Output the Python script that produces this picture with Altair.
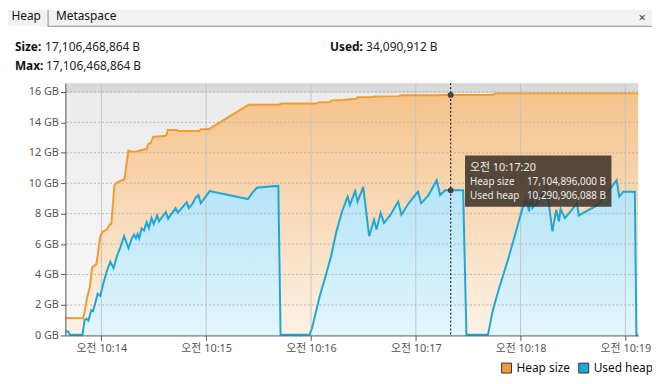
import altair as alt
import pandas as pd

FONT = "Noto Sans, Noto Sans CJK KR"

# ---- data (x: seconds after 10:14:00, y: GB) ----
heap_t = [-20.6, -10.4, -9.6, -8.1, -6.6, -5.3, -2.8, -0.6, 1.0, 3.2, 4.7, 5.7, 7.5, 9.3,
          11.7, 13.2, 15.5, 17.4, 20.2, 23.1, 25.9, 26.8, 28.2, 29.7, 32.5, 36.9, 38.2,
          42.9, 44.2, 56.1, 57.0, 61.6, 84.3, 101.7, 103.2, 123.0, 124.6, 130.6, 132.0,
          138.0, 145.7, 146.7, 155.0, 157.0, 170.0, 172.0, 191.0, 200.0, 224.0, 225.5, 307.3]
heap_gb = [1.15, 1.13, 1.55, 2.53, 3.18, 4.47, 4.69, 6.52, 6.84, 6.95, 7.28, 7.32, 9.87, 10.08,
           10.19, 10.26, 12.14, 12.07, 12.09, 12.18, 12.24, 12.57, 12.63, 13.05, 13.07, 13.11, 13.50,
           13.50, 13.43, 13.43, 13.55, 13.55, 15.16, 15.16, 15.23, 15.23, 15.31, 15.33, 15.44,
           15.47, 15.55, 15.64, 15.66, 15.70, 15.72, 15.77, 15.78, 15.80, 15.81, 15.90, 15.90]

used_t = [-20.6, -19.1, -18.0, -10.8, -9.6, -8.5, -7.4, -5.8, -4.7, -2.1, -0.6, 1.3, 3.2, 5.1,
          7.0, 8.9, 10.8, 13.0, 15.5, 17.4, 18.7, 19.8, 20.8, 21.7, 23.0, 24.4, 25.9, 27.2,
          28.7, 30.0, 31.9, 33.0, 36.9, 38.2, 42.5, 43.8, 48.9, 50.0, 52.0, 54.0, 55.6, 56.9,
          62.0, 83.9, 86.2, 89.0, 94.7, 101.3, 102.6, 119.2, 120.6, 124.9, 128.7, 131.5,
          134.4, 137.8, 141.0, 142.3, 145.3, 146.7, 149.9, 153.3, 156.1, 157.5, 159.9, 161.8,
          165.6, 169.9, 171.8, 175.9, 181.3, 183.1, 187.3, 192.0, 193.9, 196.8, 207.1, 209.0,
          221.3, 224.1, 227.9, 232.6, 237.4, 241.1, 243.1, 244.9, 245.9, 246.8, 250.6, 254.8,
          258.2, 260.4, 262.0, 262.9, 265.4, 272.3, 273.3, 284.2, 295.0, 296.5, 298.8, 305.4,
          306.3, 307.3]
used_gb = [0.26, 0.26, 0.04, 0.04, 1.01, 1.10, 0.97, 1.66, 1.60, 2.74, 2.61, 3.50, 4.25, 4.84,
           4.41, 5.22, 5.77, 6.52, 5.72, 6.37, 6.63, 6.37, 6.67, 6.37, 7.02, 6.89, 7.45, 7.06,
           7.71, 7.32, 7.88, 7.49, 8.10, 7.67, 8.36, 8.06, 8.75, 8.36, 8.62, 9.05, 9.22, 8.68,
           9.48, 8.96, 9.33, 9.70, 9.76, 9.82, 0.04, 0.04, 0.47, 2.53, 4.04, 5.20,
           6.74, 8.14, 9.11, 8.57, 9.48, 8.79, 9.76, 6.52, 7.60, 6.95, 8.04, 7.39,
           7.93, 8.79, 7.93, 8.68, 9.44, 8.68, 9.22, 10.19, 9.22, 9.53, 9.53, 0.04,
           0.04, 1.66, 3.18, 4.90, 6.84, 8.36, 9.01, 8.14, 9.76, 8.36, 8.90, 9.87,
           6.84, 8.25, 7.49, 8.31, 7.71, 8.68, 7.88, 8.57, 10.19, 9.11, 9.44, 9.44,
           0.04, 0.04]

series = ["Heap size", "Used heap"]
series_colors = ["#f29b30", "#1fa6d8"]

x_ticks = [0, 60, 120, 180, 240, 300]
y_ticks = [0, 2, 4, 6, 8, 10, 12, 14, 16]
x_domain = [-20.6, 307.3]
y_max = 16.57
max_heap_gb = 17106468864 / 2 ** 30

hover_t = 200
hover_vals = [15.80, 9.53]

W, H = 579, 255

xs = alt.Scale(domain=x_domain, nice=False, zero=False)
ys = alt.Scale(domain=[0, y_max], nice=False, zero=False)
AX = alt.Axis(values=x_ticks, labelExpr="'오전 10:' + (14 + datum.value/60)",
              grid=False, tickSize=5, labelPadding=2, zindex=1,
              labelFlush=False, labelOverlap=False)
AY = alt.Axis(values=y_ticks, labelExpr="datum.value + ' GB'",
              grid=False, tickSize=5, labelPadding=2, zindex=1,
              labelFlush=False, labelOverlap=False)


def X(f):
    return alt.X(f, scale=xs, title=None, axis=AX)


def Y(f):
    return alt.Y(f, scale=ys, title=None, axis=AY)


heap_df = pd.DataFrame({"t": heap_t, "gb": heap_gb})
used_df = pd.DataFrame({"t": used_t, "gb": used_gb})
one = pd.DataFrame({"a": [0]})


def grad(c0, c1):
    return alt.LinearGradient(gradient="linear", x1=0, y1=0, x2=0, y2=1,
                              stops=[alt.GradientStop(offset=0, color=c0),
                                     alt.GradientStop(offset=1, color=c1)])


bg = alt.Chart(one).mark_rect(fill=grad("#ebebeb", "#f9f9f9")).encode(
    x=alt.value(0), x2=alt.value(W), y=alt.value(0), y2=alt.value(H))

band = alt.Chart(pd.DataFrame({"lo": [max_heap_gb], "hi": [y_max]})).mark_rect(fill="#d9d9d9").encode(
    x=alt.value(0), x2=alt.value(W), y=Y("lo:Q"), y2="hi:Q")

heap_area = alt.Chart(heap_df).mark_area(fill=grad("#f4c38b", "#fdf2e6")).encode(
    x=X("t:Q"), y=Y("gb:Q"))
used_area = alt.Chart(used_df).mark_area(fill=grad("#b3e3f7", "#e3f6fd")).encode(
    x=X("t:Q"), y=Y("gb:Q"))

ygrid = alt.Chart(pd.DataFrame({"v": y_ticks[1:]})).mark_rule(
    color="#b3b3b3", strokeDash=[2, 2], strokeWidth=1).encode(y=Y("v:Q"))
xgrid = alt.Chart(pd.DataFrame({"v": x_ticks})).mark_rule(
    color="#c4c4c4", strokeWidth=1).encode(x=X("v:Q"))

heap_line = alt.Chart(heap_df).mark_line(color=series_colors[0], strokeWidth=2).encode(
    x=X("t:Q"), y=Y("gb:Q"))
used_line = alt.Chart(used_df).mark_line(color=series_colors[1], strokeWidth=2).encode(
    x=X("t:Q"), y=Y("gb:Q"))

hover_rule = alt.Chart(pd.DataFrame({"t": [hover_t]})).mark_rule(
    color="#000", strokeDash=[2, 2], strokeWidth=1).encode(x=X("t:Q"))
hover_dots = alt.Chart(pd.DataFrame({"t": [hover_t, hover_t], "gb": hover_vals})).mark_circle(
    color="#444", size=36, opacity=1).encode(x=X("t:Q"), y=Y("gb:Q"))

# legend (points placed outside the plot and clipped; only the legend shows)
legend_pts = alt.Chart(pd.DataFrame({"s": series, "t": [9999, 9999], "gb": [1, 1]})).mark_point(
    filled=True, shape="square", clip=True, opacity=1).encode(
    x=X("t:Q"), y=Y("gb:Q"),
    color=alt.Color("s:N", scale=alt.Scale(domain=series, range=series_colors),
                    legend=alt.Legend(orient="none", legendX=440, legendY=282,
                                      direction="horizontal", title=None,
                                      symbolType="square", symbolSize=100,
                                      symbolStrokeColor="#333", symbolStrokeWidth=1,
                                      symbolOpacity=1,
                                      labelFont=FONT, labelFontSize=12, labelColor="#111",
                                      labelOffset=4, columnPadding=6, padding=0)))

# tooltip box
tip_box = alt.Chart(one).mark_rect(fill="#3b3127", opacity=0.86).encode(
    x=alt.value(404), x2=alt.value(552), y=alt.value(73), y2=alt.value(125))


def txt(s, x, y, size=12, color="#111", weight="normal", align="left"):
    return alt.Chart(one).mark_text(font=FONT, fontSize=size, color=color, fontWeight=weight,
                                    align=align, baseline="middle").encode(
        x=alt.value(x), y=alt.value(y), text=alt.value(s))


tip_texts = [
    txt("오전 10:17:20", 409, 85.5, 11, "#eeeeee"),
    txt("Heap size", 409, 99.7, 10, "#eeeeee"),
    txt("17,104,896,000 B", 546.5, 99.7, 10, "#eeeeee", align="right"),
    txt("Used heap", 409, 113.7, 10, "#eeeeee"),
    txt("10,290,906,088 B", 546.5, 113.7, 10, "#eeeeee", align="right"),
]

# header: tab bar and summary
tab_bar = alt.Chart(one).mark_rect(fill="#f2f2f2").encode(
    x=alt.value(-58), x2=alt.value(593), y=alt.value(-74), y2=alt.value(-57.5))
tab_line = alt.Chart(one).mark_rule(color="#8f8f8f", strokeWidth=1).encode(
    x=alt.value(-18), x2=alt.value(593), y=alt.value(-57.5))
tab_sep = alt.Chart(one).mark_rule(color="#8f8f8f", strokeWidth=1).encode(
    x=alt.value(-17.5), y=alt.value(-74), y2=alt.value(-57.5))

header_texts = [
    txt("Heap", -54.5, -68, 12, "#111"),
    txt("Metaspace", -9.5, -68, 12, "#111"),
    txt("×", 583, -65.5, 13, "#444", align="center"),
    txt("Size:", -51, -37, 12, "#111", "bold"),
    txt("17,106,468,864 B", -20.5, -37, 12, "#222"),
    txt("Max:", -51, -17, 12, "#111", "bold"),
    txt("17,106,468,864 B", -19.5, -17, 12, "#222"),
    txt("Used:", 267.5, -37, 12, "#111", "bold"),
    txt("34,090,912 B", 304, -37, 12, "#222"),
]

chart = alt.layer(
    bg, band, heap_area, used_area, xgrid, ygrid, heap_line, used_line,
    hover_rule, hover_dots, legend_pts, tip_box, *tip_texts,
    tab_bar, tab_line, tab_sep, *header_texts,
).properties(
    width=W, height=H,
    padding={"left": 58, "top": 74, "right": 14, "bottom": 38},
    autosize=alt.AutoSizeParams(type="none"),
    background="white",
).configure_view(stroke=None).configure_axis(
    grid=False, domainColor="#555", tickColor="#555", labelColor="#555",
    labelFont=FONT, labelFontSize=11, domainWidth=1, labelOverlap=False, labelFlush=False,
)

chart.save("out.html", embed_options={"renderer": "svg", "actions": False})
